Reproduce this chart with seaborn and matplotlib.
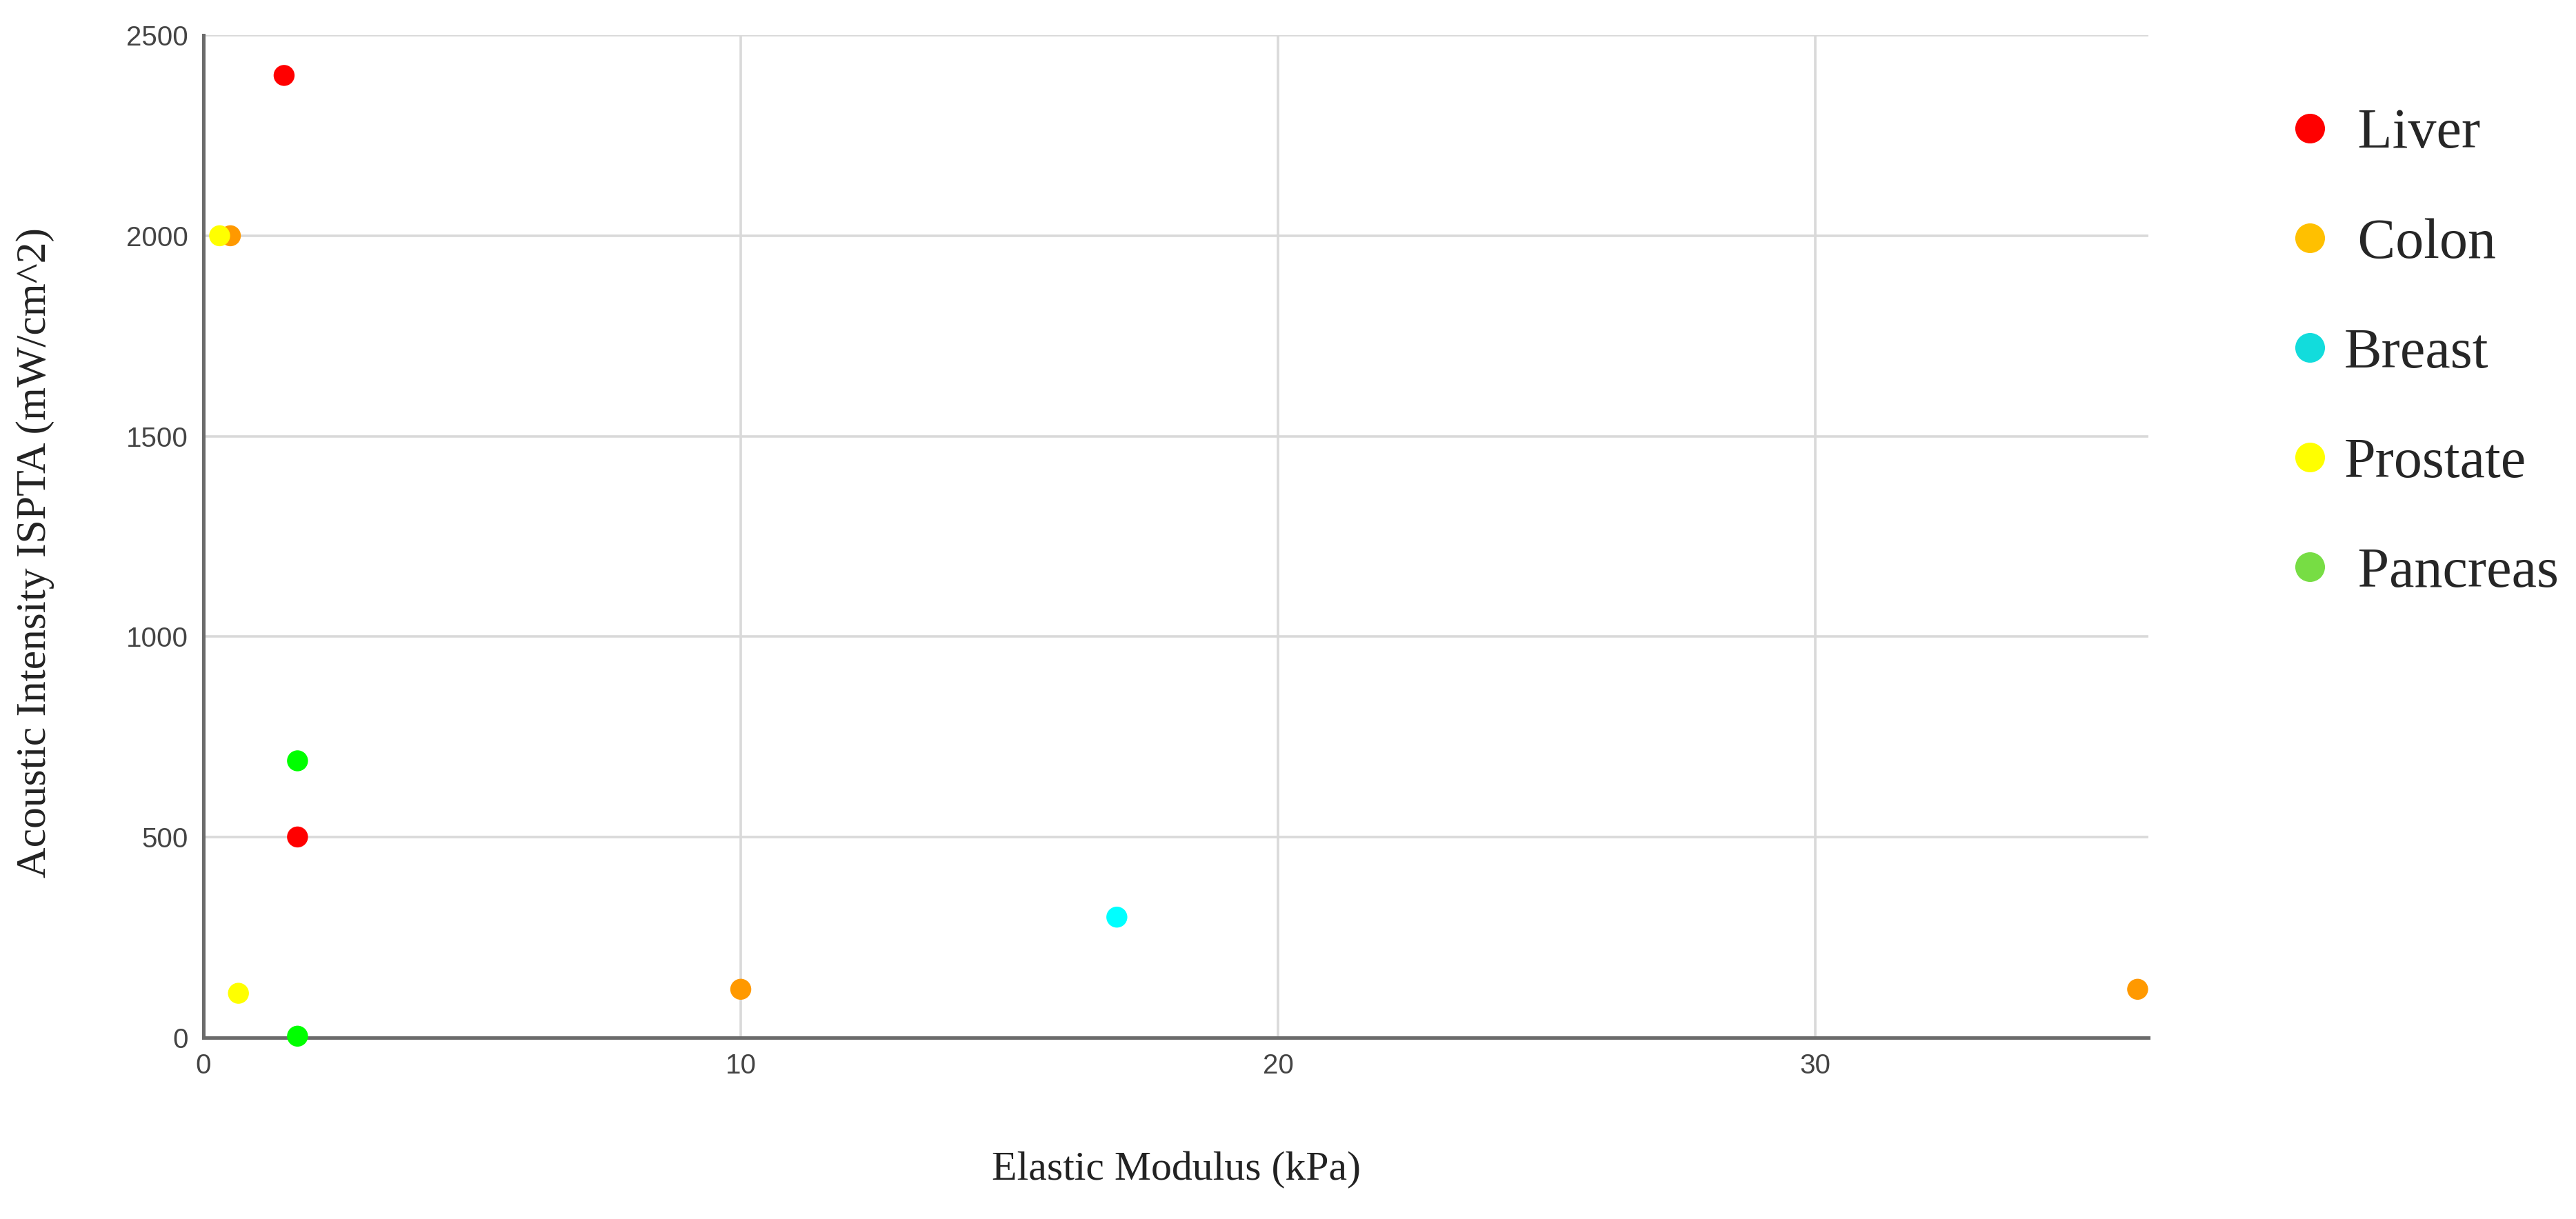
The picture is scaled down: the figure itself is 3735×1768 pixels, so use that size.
import pandas as pd
import matplotlib
matplotlib.use("Agg")
import matplotlib.pyplot as plt
from matplotlib.lines import Line2D
import seaborn as sns

# --- data ---
tissue = ["Liver", "Liver", "Colon", "Colon", "Colon", "Breast",
          "Prostate", "Prostate", "Pancreas", "Pancreas"]
elastic_kpa = [1.5, 1.75, 0.5, 10, 36, 17, 0.3, 0.65, 1.75, 1.75]
ispta = [2400, 500, 2000, 120, 120, 300, 2000, 110, 690, 3]

legend_labels = [" Liver", " Colon", "Breast", "Prostate", " Pancreas"]
point_colors = {"Liver": "#ff0000", "Colon": "#ff9900", "Breast": "#00ffff",
                "Prostate": "#ffff00", "Pancreas": "#00ff00"}
legend_colors = ["#ff0000", "#ffc000", "#12dcdc", "#ffff00", "#77dd44"]

y_ticks = [0, 500, 1000, 1500, 2000, 2500]
x_ticks = [0, 10, 20, 30]

df = pd.DataFrame({"Tissue": tissue, "E": elastic_kpa, "I": ispta})

sns.set_theme(style="white")
plt.rcParams["font.family"] = ["Liberation Sans", "DejaVu Sans"]

fig = plt.figure(figsize=(18.675, 8.84), dpi=200)
ax = fig.add_axes([0.079, 0.149, 0.755, 0.822])

sns.scatterplot(data=df, x="E", y="I", hue="Tissue", palette=point_colors,
                s=120, linewidth=0, legend=False, ax=ax, zorder=3, clip_on=False)

ax.set_xlim(0, 36.2)
ax.set_ylim(0, 2500)
ax.set_xticks(x_ticks)
ax.set_yticks(y_ticks)
ax.grid(True, color="#d9d9d9", linewidth=1.3)
ax.set_axisbelow(True)
for side in ["top", "right"]:
    ax.spines[side].set_visible(False)
for side in ["left", "bottom"]:
    ax.spines[side].set_color("#6b6b6b")
    ax.spines[side].set_linewidth(1.8)
ax.tick_params(length=0, labelsize=14.5, labelcolor="#444444", pad=8)

ax.set_xlabel("Elastic Modulus (kPa)", family=["Liberation Serif"],
              fontsize=21.5, color="#222222", labelpad=38)
ax.set_ylabel("Acoustic Intensity ISPTA (mW/cm^2)", family=["Liberation Serif"],
              fontsize=22.2, color="#222222")
ax.yaxis.set_label_coords(-0.0767, 0.484)

handles = [Line2D([], [], marker="o", linestyle="", markersize=15.5,
                  markerfacecolor=c, markeredgewidth=0) for c in legend_colors]
fig.legend(handles, legend_labels, loc="upper left", bbox_to_anchor=(0.866, 0.953),
           frameon=False, prop={"family": "Liberation Serif", "size": 29.5},
           labelspacing=1.02, handletextpad=0.1, handlelength=1.0)

fig.savefig("out.png", dpi=200, facecolor="white")
